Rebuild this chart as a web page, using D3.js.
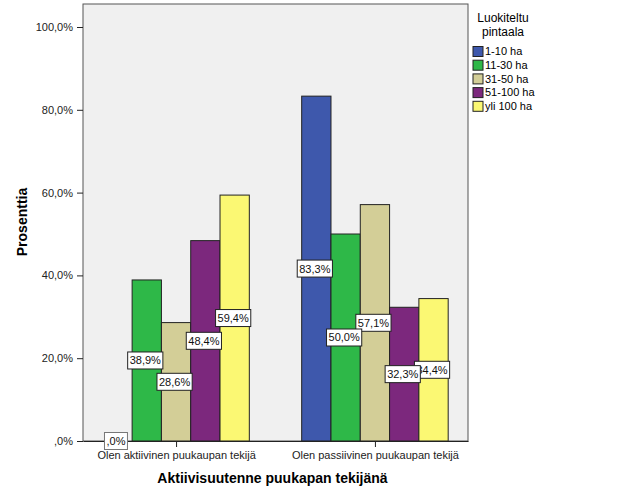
<!DOCTYPE html>
<html>
<head>
<meta charset="utf-8">
<script src="https://cdn.jsdelivr.net/npm/d3@7"></script>
<style>
  body { margin: 0; background: #fff; }
  text { font-family: Arial, "Liberation Sans", sans-serif; }
</style>
</head>
<body>
<svg id="chart"></svg>
<script>
// Chart size
const width = 626, height = 501;
const margin = { left: 83, top: 4, right: 158, bottom: 60 };

// Data
const groups = ["Olen aktiivinen puukaupan tekijä", "Olen passiivinen puukaupan tekijä"];
const series = ["1-10 ha", "11-30 ha", "31-50 ha", "51-100 ha", "yli 100 ha"];
const aktiivinen = [0.0, 38.9, 28.6, 48.4, 59.4];
const passiivinen = [83.3, 50.0, 57.1, 32.3, 34.4];
const yTicks = [0, 20, 40, 60, 80, 100];
const colors = ["#3E58AC", "#2EB848", "#D3CE97", "#7C287D", "#FBF873"];

const values = [aktiivinen, passiivinen];

// SPSS style percent: 0 -> ",0%", 38.9 -> "38,9%"
function pct(v) {
    return d3.format(".1f")(v).replace(/^0\./, ".").replace(".", ",") + "%";
}

const svg = d3.select("#chart")
    .attr("width", width)
    .attr("height", height);

const x0 = margin.left, x1 = width - margin.right;
const y1 = margin.top;

// Scales
const y = d3.scaleLinear().domain([0, 100]).range([441, 27]);
const xGroup = d3.scalePoint().domain(groups).range([x0, x1]).padding(0.468);
const barW = 29.3;
const xSeries = d3.scaleBand().domain(series)
    .range([-barW * 2.5, barW * 2.5]).padding(0);

// Plot background
svg.append("rect")
    .attr("x", x0).attr("y", y1)
    .attr("width", x1 - x0).attr("height", 441 - y1)
    .attr("fill", "#f0f0f0")
    .attr("stroke", "#555").attr("stroke-width", 1);

// Bars
const cells = [];
groups.forEach((g, gi) => {
    series.forEach((s, si) => {
        cells.push({ group: g, serie: s, value: values[gi][si], color: colors[si], si: si });
    });
});

svg.selectAll("rect.bar")
    .data(cells.filter(d => d.value > 0))
    .enter()
    .append("rect")
    .attr("class", "bar")
    .attr("x", d => xGroup(d.group) + xSeries(d.serie))
    .attr("y", d => y(d.value))
    .attr("width", xSeries.bandwidth())
    .attr("height", d => y(0) - y(d.value))
    .attr("fill", d => d.color)
    .attr("stroke", "#222")
    .attr("stroke-width", 1);

// Axes
const yAxis = d3.axisLeft(y)
    .tickValues(yTicks)
    .tickSize(6)
    .tickFormat(pct);
svg.append("g")
    .attr("transform", `translate(${x0},0)`)
    .call(yAxis)
    .call(g => g.select(".domain").remove())
    .call(g => g.selectAll("text").attr("font-size", 11).attr("fill", "#222").attr("dx", -1))
    .call(g => g.selectAll("line").attr("stroke", "#222"));

const xAxis = d3.axisBottom(xGroup).tickSize(6).tickSizeOuter(0);
svg.append("g")
    .attr("transform", `translate(0,${y(0)})`)
    .call(xAxis)
    .call(g => g.select(".domain").attr("stroke", "#222"))
    .call(g => g.selectAll("text").attr("font-size", 11).attr("fill", "#222").attr("dy", "0.85em"))
    .call(g => g.selectAll("line").attr("stroke", "#222"));

// Axis titles
svg.append("text")
    .attr("x", (x0 + x1) / 2 - 3).attr("y", 483)
    .attr("text-anchor", "middle")
    .attr("font-size", 14).attr("font-weight", "bold")
    .text("Aktiivisuutenne puukapan tekijänä");

svg.append("text")
    .attr("transform", `translate(27,222) rotate(-90)`)
    .attr("text-anchor", "middle")
    .attr("font-size", 14).attr("font-weight", "bold")
    .text("Prosenttia");

// Value labels (drawn last series first, so earlier ones sit on top)
const labels = svg.selectAll("g.lbl")
    .data(cells.slice().sort((a, b) => b.si - a.si))
    .enter()
    .append("g")
    .attr("class", "lbl")
    .attr("transform", d => {
        const cx = xGroup(d.group) + xSeries(d.serie) + xSeries.bandwidth() / 2 - 1.5;
        const cy = (y(d.value) + y(0)) / 2;
        return `translate(${cx},${cy})`;
    });

labels.each(function(d) {
    const g = d3.select(this);
    const t = g.append("text")
        .attr("text-anchor", "middle")
        .attr("dy", "0.36em")
        .attr("font-size", 11)
        .attr("fill", "#111")
        .text(pct(d.value));
    const w = t.node().getComputedTextLength() + 4;
    g.insert("rect", "text")
        .attr("x", -w / 2).attr("y", -8.5)
        .attr("width", w).attr("height", 17)
        .attr("fill", "#fff")
        .attr("stroke", d.value === 0 ? "#777" : "#222")
        .attr("stroke-width", 1);
});

// Legend
const lx = 473;
svg.append("text")
    .attr("x", 503).attr("y", 22)
    .attr("text-anchor", "middle")
    .attr("font-size", 12)
    .selectAll("tspan")
    .data(["Luokiteltu", "pintaala"])
    .enter()
    .append("tspan")
    .attr("x", 503)
    .attr("dy", (d, i) => i === 0 ? 0 : 14)
    .text(d => d);

const legend = svg.selectAll("g.leg")
    .data(series)
    .enter()
    .append("g")
    .attr("class", "leg")
    .attr("transform", (d, i) => `translate(${lx},${51.5 + i * 13.7})`);

legend.append("rect")
    .attr("x", 0).attr("y", -5)
    .attr("width", 10).attr("height", 10)
    .attr("fill", (d, i) => colors[i])
    .attr("stroke", "#222").attr("stroke-width", 1);

legend.append("text")
    .attr("x", 12).attr("dy", "0.35em")
    .attr("font-size", 11)
    .text(d => d);
</script>
</body>
</html>
